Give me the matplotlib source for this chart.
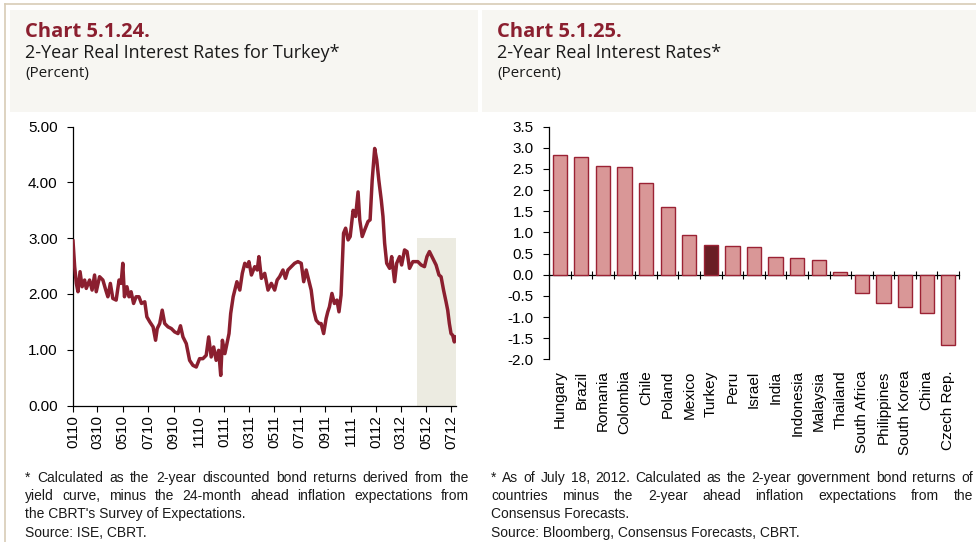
import matplotlib
matplotlib.use("Agg")
import matplotlib.pyplot as plt
import matplotlib.dates as mdates
import matplotlib.patches as mpatches
import numpy as np
import pandas as pd

# chart 5.1.24 - 2-year real interest rate for Turkey
turkey_dates = [
    "2010-01-01", "2010-01-05", "2010-01-09", "2010-01-13", "2010-01-18", "2010-01-23",
    "2010-01-29", "2010-02-02", "2010-02-10", "2010-02-16", "2010-02-22", "2010-02-26",
    "2010-03-06", "2010-03-14", "2010-03-21", "2010-03-26", "2010-04-01", "2010-04-07",
    "2010-04-15", "2010-04-22", "2010-04-27", "2010-05-01", "2010-05-05", "2010-05-11",
    "2010-05-16", "2010-05-21", "2010-05-27", "2010-06-02", "2010-06-09", "2010-06-15",
    "2010-06-23", "2010-06-28", "2010-07-05", "2010-07-13", "2010-07-19", "2010-07-23",
    "2010-07-29", "2010-08-04", "2010-08-10", "2010-08-18", "2010-08-26", "2010-09-03",
    "2010-09-11", "2010-09-17", "2010-09-23", "2010-10-01", "2010-10-09", "2010-10-17",
    "2010-10-25", "2010-11-02", "2010-11-10", "2010-11-18", "2010-11-24", "2010-11-30",
    "2010-12-06", "2010-12-12", "2010-12-18", "2010-12-23", "2010-12-27", "2011-01-02",
    "2011-01-07", "2011-01-12", "2011-01-16", "2011-01-22", "2011-01-26", "2011-01-31",
    "2011-02-07", "2011-02-13", "2011-02-19", "2011-02-25", "2011-03-01", "2011-03-07",
    "2011-03-15", "2011-03-21", "2011-03-25", "2011-03-31", "2011-04-08", "2011-04-16",
    "2011-04-24", "2011-05-02", "2011-05-08", "2011-05-14", "2011-05-22", "2011-05-28",
    "2011-06-03", "2011-06-11", "2011-06-19", "2011-06-27", "2011-07-05", "2011-07-11",
    "2011-07-17", "2011-07-23", "2011-07-29", "2011-08-04", "2011-08-10", "2011-08-17",
    "2011-08-22", "2011-08-28", "2011-09-03", "2011-09-07", "2011-09-11", "2011-09-17",
    "2011-09-23", "2011-09-29", "2011-10-04", "2011-10-09", "2011-10-15", "2011-10-20",
    "2011-10-26", "2011-10-31", "2011-11-07", "2011-11-13", "2011-11-19", "2011-11-23",
    "2011-11-29", "2011-12-05", "2011-12-13", "2011-12-18", "2011-12-23", "2011-12-29",
    "2012-01-03", "2012-01-08", "2012-01-14", "2012-01-18", "2012-01-22", "2012-01-27",
    "2012-02-03", "2012-02-08", "2012-02-15", "2012-02-20", "2012-02-27", "2012-03-03",
    "2012-03-10", "2012-03-16", "2012-03-22", "2012-03-30", "2012-04-11", "2012-04-19",
    "2012-04-27", "2012-05-03", "2012-05-09", "2012-05-17", "2012-05-25", "2012-06-01",
    "2012-06-06", "2012-06-12", "2012-06-18", "2012-06-22", "2012-06-26", "2012-06-30",
    "2012-07-04", "2012-07-08", "2012-07-11",
]
turkey_rates = [
    2.95, 2.49, 2.19, 2.04, 2.40, 2.13,
    2.25, 2.10, 2.25, 2.07, 2.34, 2.04,
    2.31, 2.25, 2.07, 1.95, 2.19, 1.92,
    1.89, 2.25, 2.19, 2.55, 1.95, 2.13,
    1.95, 2.04, 1.83, 1.95, 1.95, 1.83,
    1.86, 1.59, 1.50, 1.41, 1.17, 1.38,
    1.47, 1.71, 1.47, 1.41, 1.38, 1.32,
    1.29, 1.43, 1.23, 1.11, 0.81, 0.72,
    0.69, 0.84, 0.84, 0.90, 1.23, 0.87,
    1.05, 0.81, 0.99, 0.54, 1.17, 0.93,
    1.11, 1.29, 1.65, 1.95, 2.07, 2.22,
    2.07, 2.37, 2.55, 2.49, 2.58, 2.34,
    2.49, 2.43, 2.67, 2.28, 2.37, 2.07,
    2.19, 2.07, 2.25, 2.31, 2.43, 2.28,
    2.43, 2.49, 2.55, 2.58, 2.55, 2.22,
    2.43, 2.25, 2.07, 1.71, 1.53, 1.47,
    1.47, 1.29, 1.56, 1.68, 1.77, 2.01,
    1.83, 1.89, 1.68, 1.98, 3.09, 3.18,
    2.97, 3.03, 3.50, 3.39, 3.83, 3.33,
    3.03, 3.15, 3.30, 3.33, 4.04, 4.61,
    4.40, 4.04, 3.68, 3.39, 2.91, 2.55,
    2.46, 2.67, 2.22, 2.55, 2.67, 2.52,
    2.79, 2.76, 2.46, 2.58, 2.58, 2.52,
    2.49, 2.67, 2.76, 2.64, 2.52, 2.34,
    2.31, 2.07, 1.86, 1.71, 1.47, 1.29,
    1.26, 1.14, 1.23,
]
shade_start = "2012-04-10"
shade_end = "2012-07-12"
shade_top = 3.0

# chart 5.1.25 - 2-year real interest rates by country
countries = ["Hungary", "Brazil", "Romania", "Colombia", "Chile", "Poland", "Mexico",
             "Turkey", "Peru", "Israel", "India", "Indonesia", "Malaysia", "Thailand",
             "South Africa", "Philippines", "South Korea", "China", "Czech Rep."]
country_rates = [2.84, 2.78, 2.58, 2.55, 2.16, 1.60, 0.95,
                 0.70, 0.67, 0.65, 0.43, 0.40, 0.34, 0.06,
                 -0.43, -0.68, -0.76, -0.90, -1.67]
highlight = "Turkey"

DARK_RED = "#8b1f2f"
BAR_FILL = "#d99797"
BAR_EDGE = "#9b2234"
TURKEY_FILL = "#6a1e24"
HEAD_BG = "#f7f6f2"
BORDER = "#d8ccb6"
SHADE = "#ecebe1"

plt.rcParams["font.family"] = ["Liberation Sans", "DejaVu Sans"]
plt.rcParams["axes.linewidth"] = 0.9

fig = plt.figure(figsize=(9.76, 5.42), dpi=100)
W, H = 976.0, 542.0


def fx(px):
    return px / W


def fy(py):
    return 1 - py / H


# frame lines and header boxes
fig.add_artist(plt.Line2D([fx(5), 1], [fy(4), fy(4)], color=BORDER, lw=1.2))
fig.add_artist(plt.Line2D([fx(5), fx(5)], [fy(4), 0], color=BORDER, lw=1.2))
for x0, x1 in [(10, 478), (482, 976)]:
    fig.add_artist(mpatches.Rectangle((fx(x0), fy(112)), fx(x1 - x0), (112 - 10) / H,
                                      facecolor=HEAD_BG, edgecolor="none"))

head_font = ["Open Sans", "DejaVu Sans"]
for x0, num, sub in [(25, "Chart 5.1.24.", "2-Year Real Interest Rates for Turkey*"),
                     (497, "Chart 5.1.25.", "2-Year Real Interest Rates*")]:
    fig.text(fx(x0), fy(32), num, color=DARK_RED, fontsize=14.5, fontweight="bold",
             family=head_font, va="center")
    fig.text(fx(x0), fy(53), sub, color="#1a1a1a", fontsize=13, family=head_font, va="center")
    fig.text(fx(x0), fy(74), "(Percent)", color="#1a1a1a", fontsize=11, family=head_font,
             va="center")

# ---- left chart
ax1 = fig.add_axes([fx(73), fy(405.5), fx(456 - 73), (405.5 - 126.7) / H])
dates = pd.to_datetime(turkey_dates)
ax1.axvspan(pd.Timestamp(shade_start), pd.Timestamp(shade_end), ymin=0, ymax=shade_top / 5.0,
            color=SHADE, lw=0, zorder=0)
ax1.plot(dates, turkey_rates, color=DARK_RED, lw=2.5, solid_joinstyle="round", zorder=3)
ax1.set_xlim(pd.Timestamp("2010-01-01"), pd.Timestamp(shade_end))
ax1.set_ylim(0, 5)
ax1.set_yticks(np.arange(0, 5.01, 1))
ax1.yaxis.set_major_formatter(matplotlib.ticker.FormatStrFormatter("%.2f"))
ax1.xaxis.set_major_locator(mdates.MonthLocator(bymonth=[1, 3, 5, 7, 9, 11]))
ax1.xaxis.set_major_formatter(mdates.DateFormatter("%m%y"))
for s in ["top", "right"]:
    ax1.spines[s].set_visible(False)
ax1.tick_params(axis="y", direction="out", length=4, pad=7, labelsize=11)
ax1.tick_params(axis="x", direction="out", length=4, pad=3, labelsize=11, labelrotation=90)

# ---- right chart
ax2 = fig.add_axes([fx(549), fy(359.3), fx(959 - 549), (359.3 - 126.7) / H])
pos = np.arange(len(countries))
fills = [TURKEY_FILL if c == highlight else BAR_FILL for c in countries]
ax2.bar(pos, country_rates, width=0.66, color=fills, edgecolor=BAR_EDGE, lw=1.0, zorder=2)
ymin, ymax = -2.0, 3.5
ax2.set_ylim(ymin, ymax)
ax2.set_xlim(-0.5, len(countries) - 0.5)
ax2.set_yticks(np.arange(ymin, ymax + 0.01, 0.5))
ax2.yaxis.set_major_formatter(matplotlib.ticker.FormatStrFormatter("%.1f"))
ax2.set_xticks(pos)
ax2.set_xticklabels(countries, rotation=90)
for s in ["top", "right", "bottom"]:
    ax2.spines[s].set_visible(False)
ax2.tick_params(axis="y", direction="out", length=4, pad=7, labelsize=11)
ax2.tick_params(axis="x", length=0, pad=8, labelsize=11)

# zero line with ticks between the bars
zero_ax = ax2.secondary_xaxis((0 - ymin) / (ymax - ymin))
zero_ax.set_xticks(np.arange(-0.5, len(countries), 1))
zero_ax.tick_params(direction="inout", length=6, labelbottom=False)
zero_ax.spines["bottom"].set_linewidth(0.9)

# ---- footnotes
renderer = fig.canvas.get_renderer()
note_kw = dict(fontsize=10, color="#1a1a1a", va="center", family=["Liberation Sans", "DejaVu Sans"])


def note_line(x0, x1, py, text, justify):
    if not justify:
        fig.text(fx(x0), fy(py), text, **note_kw)
        return
    words = text.split()
    objs = [fig.text(0, fy(py), w, **note_kw) for w in words]
    widths = [o.get_window_extent(renderer).width / fig.bbox.width for o in objs]
    gap = (fx(x1) - fx(x0) - sum(widths)) / (len(words) - 1)
    x = fx(x0)
    for o, w in zip(objs, widths):
        o.set_x(x)
        x += w + gap


left_notes = ["* Calculated as the 2-year discounted bond returns derived from the",
              "yield curve, minus the 24-month ahead inflation expectations from",
              "the CBRT's Survey of Expectations."]
right_notes = ["* As of July 18, 2012. Calculated as the 2-year government bond returns of",
               "countries minus the 2-year ahead inflation expectations from the",
               "Consensus Forecasts."]
for (x0, x1, lines, src) in [(25, 469, left_notes, "Source: ISE, CBRT."),
                             (491, 973, right_notes, "Source: Bloomberg, Consensus Forecasts, CBRT.")]:
    for i, (ln, py) in enumerate(zip(lines, [478, 496, 514])):
        note_line(x0, x1, py, ln, i < 2)
    note_line(x0, x1, 533, src, False)

fig.savefig("out.png", dpi=100)
